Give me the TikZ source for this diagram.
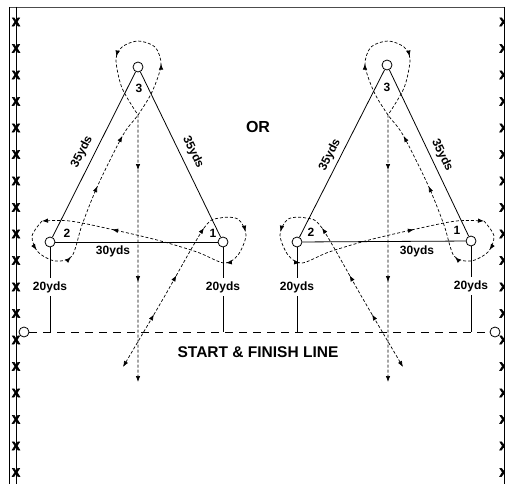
\documentclass[tikz,border=0pt]{standalone}
\usepackage{fontspec}
\setmainfont{Liberation Sans}
\newfontface\xfont[RawFeature={embolden=5}]{Liberation Sans Bold}
\usetikzlibrary{arrows.meta,decorations.markings}
\newcommand\routetip{\arrow{>}}
\begin{document}
\begin{tikzpicture}[x=1pt,y=-1pt,
  >={Latex[length=6pt,width=4.5pt]},
  cone/.style={circle,draw,fill=white,minimum size=10pt,inner sep=0pt,line width=0.8pt},
  lbl/.style={font=\bfseries\fontsize{12}{12}\selectfont,inner sep=0pt},
  stemlbl/.style={font=\bfseries\fontsize{12}{12}\selectfont,inner xsep=0pt,inner ysep=3.5pt},
  xmark/.style={font=\xfont\fontsize{12}{12}\selectfont,inner sep=0pt},
  edge/.style={draw,line width=0.8pt},
  startline/.style={draw,line width=0.8pt,dash pattern=on 8pt off 6pt},
  route/.style={draw,line width=0.7pt,dash pattern=on 3pt off 2pt},
  marksA/.style={postaction={decorate},decoration={markings,
     mark=at position 61pt with {\routetip},
     mark=at position 106pt with {\routetip},
     mark=at position 161pt with {\routetip},
     mark=at position 214pt with {\routetip},
     mark=at position 254pt with {\routetip},
     mark=at position 373pt with {\routetip}}},
  marksB/.style={postaction={decorate},decoration={markings,
     mark=at position 33pt with {\routetip},
     mark=at position 72pt with {\routetip},
     mark=at position 148pt with {\routetip},
     mark=at position 204pt with {\routetip},
     mark=at position 287pt with {\routetip},
     mark=at position 352pt with {\routetip},
     mark=at position -212pt with {\routetip},
     mark=at position -100pt with {\routetip}}}
]
\useasboundingbox (0,0) rectangle (505,484);
\clip (0,0) rectangle (505,484);

% field border
\draw[line width=0.8pt,black!70] (9,7) -- (505,7);
\draw[line width=0.8pt] (9,7) -- (9,484);
\draw[line width=0.8pt] (16,7) -- (16,484);
\draw[line width=0.8pt] (504,7) -- (504,484);
\foreach \k in {0,...,17}{
  \node[xmark] (xl\k) at (16,{22+26.5*\k}) {X};
  \node[xmark] (xr\k) at (503.5,{22+26.5*\k}) {X};
}

% start & finish line
\node[cone] (sL) at (24,332) {};
\node[cone] (sR) at (495,332) {};
\draw[startline] (sL) -- (sR);
\node[font=\bfseries\fontsize{15.5}{15.5}\selectfont,inner sep=0pt] (start) at (258,352) {START \& FINISH LINE};
\node[font=\bfseries\fontsize{16}{16}\selectfont,inner sep=0pt] (or) at (258,127) {OR};

% ---------- left diagram ----------
\node[cone] (n3L) at (138,67) {};
\node[cone] (n2L) at (50,242) {};
\node[cone] (n1L) at (223,242) {};
\draw[edge] (n3L) -- (n2L);
\draw[edge] (n3L) -- (n1L);
\draw[edge] (n2L) -- (n1L);
\node[stemlbl] (d2L) at (50,287) {20yds};
\node[stemlbl] (d1L) at (223,287) {20yds};
\draw[edge] (n2L) -- (d2L);
\draw[edge] (d2L) -- (d2L |- sL);
\draw[edge] (n1L) -- (d1L);
\draw[edge] (d1L) -- (d1L |- sL);
\node[lbl] (t3L) at (139,88) {3};
\node[lbl] (t2L) at (67,233) {2};
\node[lbl] (t1L) at (213,233) {1};
\node[lbl] (wL) at (113,251) {30yds};
\node[lbl,rotate=63] (aL) at (82,152) {35yds};
\node[lbl,rotate=-64] (bL) at (193,152) {35yds};

\draw[route,marksA,<->] plot[smooth] coordinates {
  (123,367) (163,299) (204,228) (220,218) (238,219) (246,235) (238,255)
  (224,263) (197,252) (157,240) (110,229) (70,221) (42,221)};
\draw[route,marksB,->] plot[smooth] coordinates {
  (42,221) (32,236) (38,252) (55,261) (72,256) (82,225) (98,185) (123,135)
  (138,115) (152,92) (161,65) (155,47) (138,41) (122,47) (116,60) (122,88)
  (138,115)} -- (138,382);

% ---------- right diagram ----------
\node[cone] (n3R) at (387,65) {};
\node[cone] (n2R) at (297,242) {};
\node[cone] (n1R) at (471,241) {};
\draw[edge] (n3R) -- (n2R);
\draw[edge] (n3R) -- (n1R);
\draw[edge] (n2R) -- (n1R);
\node[stemlbl] (d2R) at (297,287) {20yds};
\node[stemlbl] (d1R) at (471,286) {20yds};
\draw[edge] (n2R) -- (d2R);
\draw[edge] (d2R) -- (d2R |- sR);
\draw[edge] (n1R) -- (d1R);
\draw[edge] (d1R) -- (d1R |- sR);
\node[lbl] (t3R) at (387,87) {3};
\node[lbl] (t2R) at (311,232) {2};
\node[lbl] (t1R) at (457,230) {1};
\node[lbl] (wR) at (417,251) {30yds};
\node[lbl,rotate=63] (aR) at (330,155) {35yds};
\node[lbl,rotate=-64] (bR) at (442,155) {35yds};

\draw[route,marksA,<->] plot[smooth] coordinates {
  (403,367) (363,299) (322,228) (306,218) (288,219) (280,235) (288,255)
  (302,263) (329,252) (369,240) (416,229) (456,221) (484,221)};
\draw[route,marksB,->] plot[smooth] coordinates {
  (484,221) (494,236) (488,252) (471,261) (454,256) (444,225) (428,185) (403,135)
  (388,115) (374,92) (365,65) (371,47) (388,41) (404,47) (410,60) (404,88)
  (388,115)} -- (388,382);
\end{tikzpicture}
\end{document}
